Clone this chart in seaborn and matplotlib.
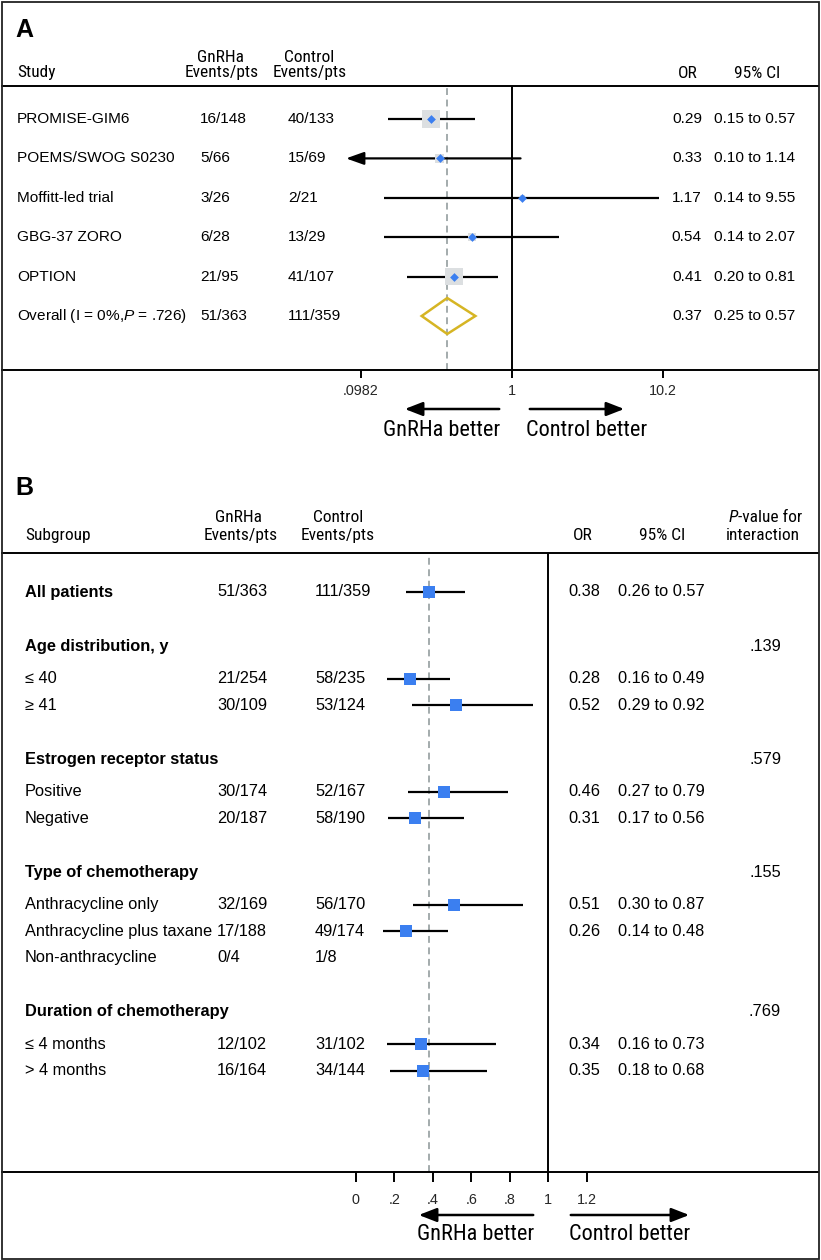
import numpy as np
import pandas as pd
import matplotlib
matplotlib.use("Agg")
import matplotlib.pyplot as plt
import seaborn as sns
from matplotlib import font_manager as fm
from matplotlib.patches import Rectangle, Polygon, FancyArrowPatch
from matplotlib.ticker import NullLocator, FixedLocator, FixedFormatter
from matplotlib.transforms import ScaledTranslation

# ---------------- Panel A data ----------------
studies = ["PROMISE-GIM6", "POEMS/SWOG S0230", "Moffitt-led trial", "GBG-37 ZORO", "OPTION"]
gnrh_a = ["16/148", "5/66", "3/26", "6/28", "21/95"]
ctrl_a = ["40/133", "15/69", "2/21", "13/29", "41/107"]
or_a = [0.29, 0.33, 1.17, 0.54, 0.41]
lo_a = [0.15, 0.0955, 0.14, 0.14, 0.20]
hi_a = [0.57, 1.14, 9.55, 2.07, 0.81]
weight_a = [38, 9, 3, 8, 35]
overall_label = "Overall (I = 0%,$\\it{P}$ = .726)"
overall_gnrh = "51/363"
overall_ctrl = "111/359"
overall_or = 0.37
overall_lo = 0.25
overall_hi = 0.57
ticks_a = [0.0982, 1, 10.2]
ticklabels_a = [".0982", "1", "10.2"]

# ---------------- Panel B data ----------------
sub_labels = ["All patients", "Age distribution, y", "\u2264 40", "\u2265 41",
              "Estrogen receptor status", "Positive", "Negative",
              "Type of chemotherapy", "Anthracycline only", "Anthracycline plus taxane",
              "Non-anthracycline", "Duration of chemotherapy", "\u2264 4 months", "> 4 months"]
sub_heading = [True, True, False, False, True, False, False, True, False, False, False, True, False, False]
gnrh_b = ["51/363", "", "21/254", "30/109", "", "30/174", "20/187", "", "32/169", "17/188", "0/4", "", "12/102", "16/164"]
ctrl_b = ["111/359", "", "58/235", "53/124", "", "52/167", "58/190", "", "56/170", "49/174", "1/8", "", "31/102", "34/144"]
nan = np.nan
or_b = [0.38, nan, 0.28, 0.52, nan, 0.46, 0.31, nan, 0.51, 0.26, nan, nan, 0.34, 0.35]
lo_b = [0.26, nan, 0.16, 0.29, nan, 0.27, 0.17, nan, 0.30, 0.14, nan, nan, 0.16, 0.18]
hi_b = [0.57, nan, 0.49, 0.92, nan, 0.79, 0.56, nan, 0.87, 0.48, nan, nan, 0.73, 0.68]
p_int = ["", ".139", "", "", ".579", "", "", ".155", "", "", "", ".769", "", ""]
ticks_b = [0, 0.2, 0.4, 0.6, 0.8, 1.0, 1.2]
ticklabels_b = ["0", ".2", ".4", ".6", ".8", "1", "1.2"]

# ---------------- style ----------------
sns.set_theme(style="white")
REG = ["Liberation Sans", "DejaVu Sans"]


def has_font(name):
    try:
        fm.findfont(fm.FontProperties(family=name), fallback_to_default=False)
        return True
    except Exception:
        return False


NARROW = None
for cand in ["Roboto Condensed", "Liberation Sans Narrow", "Open Sans Condensed"]:
    if has_font(cand):
        NARROW = [cand, "Liberation Sans", "DejaVu Sans"]
        NARROW_SIZE = 16.0
        SH = 12.5
        break
if NARROW is None:
    NARROW = REG
    NARROW_SIZE = 13.5
    SH = 11.3

plt.rcParams["font.family"] = REG
plt.rcParams["mathtext.fontset"] = "custom"
plt.rcParams["mathtext.it"] = "Liberation Sans:italic"
plt.rcParams["mathtext.rm"] = "Liberation Sans"

BLUE = "#3b7ff0"
GRAYBOX = "#dcdfe1"
GOLD = "#d6b524"
DASH = "#8a9496"
LW = 1.4
SA = 11.1   # panel A body text
SB = 11.8   # panel B body text

W, H = 821, 1260
fig = plt.figure(figsize=(W / 100, H / 100), dpi=100)
fig.patch.set_facecolor("white")


def fx(px):
    return px / W


def fy(py):
    return 1 - py / H


def ftext(px, py, s, ha="left", size=SA, weight="normal", family=None, style="normal"):
    fig.text(fx(px), fy(py), s, ha=ha, va="center", fontsize=size,
             fontweight=weight, family=family or REG, style=style, color="black")


def htext(px, py, s, ha="left", style="normal"):
    ftext(px, py, s, ha=ha, size=SH, family=NARROW, style=style)


# outer border
fig.add_artist(Rectangle((fx(1.5), fy(1258.5)), fx(817), 1257 / H, transform=fig.transFigure,
                         fill=False, edgecolor="#222222", lw=1.3))

# ================= Panel A =================
A_top, A_bot = 86, 370
axA = fig.add_axes([fx(2), fy(A_bot), fx(816), (A_bot - A_top) / H])
axA.set_xscale("log")
A_x0, A_dec = 512, 150
axA.set_xlim(10 ** ((2 - A_x0) / A_dec), 10 ** ((818 - A_x0) / A_dec))
axA.set_ylim(A_bot, A_top)
rows_a = [119 + 39.4 * i for i in range(len(studies))]
y_over = 119 + 39.4 * len(studies)

axA.axvline(1, color="black", lw=LW, zorder=1)
axA.axvline(overall_or, color=DASH, lw=1.1, ls=(0, (4.5, 3)), zorder=1)

xmin_tick = ticks_a[0]
for y, o, lo, hi in zip(rows_a, or_a, lo_a, hi_a):
    if lo < xmin_tick:
        axA.annotate("", xy=(lo, y), xytext=(hi, y),
                     xycoords=axA.transData + ScaledTranslation(-0.13, 0, fig.dpi_scale_trans),
                     textcoords="data",
                     arrowprops=dict(arrowstyle="-|>,head_length=0.9,head_width=0.32",
                                     lw=1.6, color="black", shrinkA=0, shrinkB=0), zorder=2)
    else:
        axA.hlines(y, lo, hi, color="black", lw=1.6, zorder=2)

dfA = pd.DataFrame({"or": or_a, "y": rows_a, "w": weight_a})
sns.scatterplot(data=dfA, x="or", y="y", size="w", sizes=(13.3, 169), marker="s",
                color=GRAYBOX, linewidth=0, legend=False, ax=axA, zorder=3)
sns.scatterplot(data=dfA, x="or", y="y", marker="D", s=20, color=BLUE,
                linewidth=0, legend=False, ax=axA, zorder=4)
axA.add_patch(Polygon([(overall_lo, y_over), (overall_or, y_over - 18),
                       (overall_hi, y_over), (overall_or, y_over + 18)],
                      closed=True, fill=False, edgecolor=GOLD, lw=1.8, zorder=4))

for side in ["left", "right"]:
    axA.spines[side].set_visible(False)
for side in ["top", "bottom"]:
    axA.spines[side].set_color("black")
    axA.spines[side].set_linewidth(LW)
axA.yaxis.set_visible(False)
axA.xaxis.set_major_locator(FixedLocator(ticks_a))
axA.xaxis.set_major_formatter(FixedFormatter(ticklabels_a))
axA.xaxis.set_minor_locator(NullLocator())
axA.tick_params(axis="x", direction="out", length=6, width=LW, color="black",
                labelsize=10.4, pad=4, bottom=True)
axA.set_xlabel("")
axA.set_ylabel("")
axA.set_facecolor("none")

# Panel A text
ftext(15, 30, "A", size=18, weight="bold")
htext(17, 73, "Study")
htext(220, 57, "GnRHa", ha="center")
htext(222, 73, "Events/pts", ha="center")
htext(309, 57, "Control", ha="center")
htext(310, 73, "Events/pts", ha="center")
htext(688, 73, "OR", ha="center")
htext(757, 73, "95% CI", ha="center")
for y, s, g, c, o, lo, hi in zip(rows_a, studies, gnrh_a, ctrl_a, or_a, lo_a, hi_a):
    ftext(17, y, s)
    ftext(200, y, g)
    ftext(288, y, c)
    ftext(702, y, f"{o:.2f}", ha="right")
    ftext(714, y, f"{lo:.2f} to {hi:.2f}")
ftext(17, y_over, overall_label)
ftext(200, y_over, overall_gnrh)
ftext(288, y_over, overall_ctrl)
ftext(702, y_over, f"{overall_or:.2f}", ha="right")
ftext(714, y_over, f"{overall_lo:.2f} to {overall_hi:.2f}")

# Panel A direction arrows
for (x0, x1) in [(502, 402), (527, 627)]:
    fig.add_artist(FancyArrowPatch(
        (fx(x0), fy(409)), (fx(x1), fy(409)), transform=fig.transFigure,
        arrowstyle="-|>,head_length=0.9,head_width=0.35", lw=1.8, color="black",
        mutation_scale=12))
ftext(442, 430, "GnRHa better", ha="center", size=NARROW_SIZE, family=NARROW)
ftext(587, 430, "Control better", ha="center", size=NARROW_SIZE, family=NARROW)

# ================= Panel B =================
B_top, B_bot = 553, 1172
axB = fig.add_axes([fx(2), fy(B_bot), fx(816), (B_bot - B_top) / H])
B_x0, B_unit = 355.7, 192.5
axB.set_xlim((2 - B_x0) / B_unit, (818 - B_x0) / B_unit)
axB.set_ylim(B_bot, B_top)

rows_b = []
y = None
prev_heading = False
for i, hd in enumerate(sub_heading):
    if y is None:
        y = 592.0
    elif hd:
        y += 54.3
    elif prev_heading and i > 1:
        y += 32.5
    else:
        y += 26.3
    rows_b.append(y)
    prev_heading = hd

axB.axvline(1, color="black", lw=LW, zorder=1)
axB.axvline(or_b[0], color=DASH, lw=1.1, ls=(0, (4.5, 3)), zorder=1)

dfB = pd.DataFrame({"or": or_b, "lo": lo_b, "hi": hi_b, "y": rows_b}).dropna()
axB.hlines(dfB["y"], dfB["lo"], dfB["hi"], color="black", lw=1.6, zorder=2)
sns.scatterplot(data=dfB, x="or", y="y", marker="s", s=64, color=BLUE,
                linewidth=0, legend=False, ax=axB, zorder=3)

for side in ["left", "right"]:
    axB.spines[side].set_visible(False)
for side in ["top", "bottom"]:
    axB.spines[side].set_color("black")
    axB.spines[side].set_linewidth(LW)
axB.yaxis.set_visible(False)
axB.xaxis.set_major_locator(FixedLocator(ticks_b))
axB.xaxis.set_major_formatter(FixedFormatter(ticklabels_b))
axB.tick_params(axis="x", direction="out", length=7, width=LW, color="black",
                labelsize=10.4, pad=8, bottom=True)
axB.set_xlabel("")
axB.set_ylabel("")
axB.set_facecolor("none")

ftext(15, 488, "B", size=18, weight="bold")
htext(25, 535, "Subgroup")
htext(238, 517, "GnRHa", ha="center")
htext(241, 535, "Events/pts", ha="center")
htext(338, 517, "Control", ha="center")
htext(338, 535, "Events/pts", ha="center")
htext(583, 535, "OR", ha="center")
htext(662, 535, "95% CI", ha="center")
htext(738, 517, "P", ha="right", style="italic")
htext(738, 517, "-value for", ha="left")
htext(763, 535, "interaction", ha="center")

for y, lab, hd, g, c, o, lo, hi, p in zip(rows_b, sub_labels, sub_heading, gnrh_b, ctrl_b,
                                           or_b, lo_b, hi_b, p_int):
    ftext(25, y, lab, size=SB, weight="bold" if hd else "normal")
    if g:
        ftext(217, y, g, size=SB)
    if c:
        ftext(315, y, c, size=SB)
    if not np.isnan(o):
        ftext(568, y, f"{o:.2f}", size=SB)
        ftext(618, y, f"{lo:.2f} to {hi:.2f}", size=SB)
    if p:
        ftext(781, y, p, ha="right", size=SB)

for (x0, x1) in [(536, 416), (568, 692)]:
    fig.add_artist(FancyArrowPatch(
        (fx(x0), fy(1215)), (fx(x1), fy(1215)), transform=fig.transFigure,
        arrowstyle="-|>,head_length=0.9,head_width=0.35", lw=1.8, color="black",
        mutation_scale=12))
ftext(476, 1235, "GnRHa better", ha="center", size=NARROW_SIZE, family=NARROW)
ftext(630, 1235, "Control better", ha="center", size=NARROW_SIZE, family=NARROW)

fig.savefig("out.png", dpi=100, facecolor="white")
